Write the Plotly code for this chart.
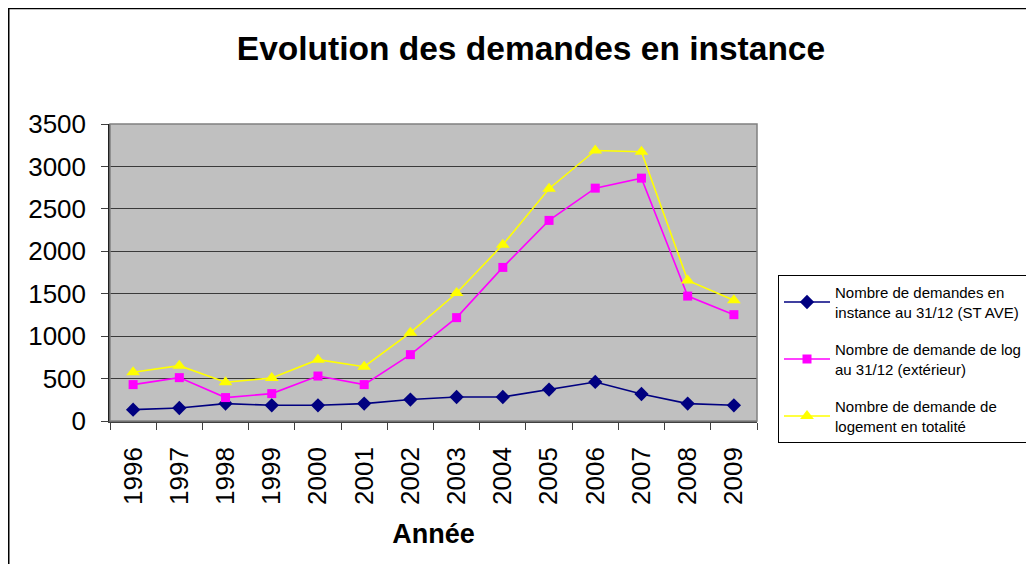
import plotly.graph_objects as go

years = ["1996", "1997", "1998", "1999", "2000", "2001", "2002",
         "2003", "2004", "2005", "2006", "2007", "2008", "2009"]
st_ave = [134, 153, 205, 185, 185, 205, 253, 283, 283, 370, 460, 318, 205, 185]
exterieur = [429, 511, 276, 323, 530, 429, 782, 1218, 1810, 2364, 2744, 2862, 1472, 1253]
totalite = [574, 652, 456, 507, 723, 640, 1041, 1508, 2078, 2737, 3188, 3173, 1657, 1422]

names = [
    "Nombre de demandes en<br>instance au 31/12 (ST AVE)",
    "Nombre de demande de log<br>au 31/12 (extérieur)",
    "Nombre de demande de<br>logement en totalité",
]
y_ticks = [0, 500, 1000, 1500, 2000, 2500, 3000, 3500]

FONT = "Liberation Sans, Arial, sans-serif"

fig = go.Figure()
fig.add_trace(go.Scatter(x=years, y=st_ave, name=names[0], mode="lines+markers",
                         line=dict(color="#000080", width=1.6),
                         marker=dict(symbol="diamond", size=11, color="#000080"),
                         legendgroup="a"))
fig.add_trace(go.Scatter(x=years, y=exterieur, name=names[1], mode="lines+markers",
                         line=dict(color="#FF00FF", width=1.6),
                         marker=dict(symbol="square", size=9, color="#FF00FF"),
                         legendgroup="b"))
fig.add_trace(go.Scatter(x=years, y=totalite, name=names[2], mode="lines+markers",
                         line=dict(color="#FFFF00", width=1.6),
                         marker=dict(symbol="triangle-up", size=12, color="#FFFF00"),
                         legendgroup="c"))

# page has an 8px body margin: the figure starts at page (8, 8)
OFF = 8
W, H = 1034 - OFF, 564 - OFF
L, R, T, B = 110 - OFF, 277, 124 - OFF, 143
pw, ph = W - L - R, H - T - B

def px2x(px):
    # page x -> paper x
    return (px - OFF - L) / pw

def px2y(py):
    # page y -> paper y
    return (H - B - (py - OFF)) / ph

fig.update_layout(
    width=W, height=H,
    margin=dict(l=L, r=R, t=T, b=B, autoexpand=False),
    paper_bgcolor="white",
    plot_bgcolor="#C0C0C0",
    font=dict(family=FONT, color="black"),
    title=dict(text="<b>Evolution des demandes en instance</b>",
               font=dict(size=33.5, family=FONT, color="black"),
               x=(531 - OFF) / W, xanchor="center", xref="container",
               y=1 - (48 - OFF) / H, yanchor="middle", yref="container"),
    showlegend=True,
    legend=dict(x=px2x(778), y=px2y(275), xanchor="left", yanchor="top",
                bordercolor="black", borderwidth=1, bgcolor="white",
                font=dict(size=15, family=FONT, color="black"),
                tracegroupgap=15, itemwidth=46, traceorder="grouped"),
    xaxis=dict(
        type="category", range=[-0.5, len(years) - 0.5],
        tickmode="array", tickvals=years, ticktext=years,
        tickangle=-90, tickfont=dict(size=26, family=FONT, color="black"),
        ticks="outside", ticklen=7, tickcolor="#404040", tickson="boundaries",
        ticklabelstandoff=14,
        showline=True, linecolor="#404040", linewidth=1.5, mirror=False,
        showgrid=False, zeroline=False,
        title=dict(text="<b>Année</b>", font=dict(size=27, family=FONT, color="black"),
                   standoff=20),
        automargin=False,
    ),
    yaxis=dict(
        range=[0, 3500], tickmode="array", tickvals=y_ticks,
        ticktext=[str(v) for v in y_ticks],
        tickfont=dict(size=26, family=FONT, color="black"),
        ticks="outside", ticklen=7, tickcolor="#404040",
        ticklabelstandoff=10,
        showline=True, linecolor="#202020", linewidth=1.5,
        showgrid=True, gridcolor="#3a3a3a", gridwidth=1,
        zeroline=False, automargin=False,
    ),
    shapes=[
        # plot area border (top & right, grey)
        dict(type="rect", xref="paper", yref="paper", x0=0, x1=1, y0=0, y1=1,
             line=dict(color="#808080", width=1.5), layer="above"),
        # outer chart frame
        dict(type="rect", xref="paper", yref="paper",
             x0=px2x(8.75), x1=px2x(1045), y0=px2y(8.5), y1=px2y(580),
             line=dict(color="black", width=1.5)),
    ],
)

fig.write_html("out.html")
